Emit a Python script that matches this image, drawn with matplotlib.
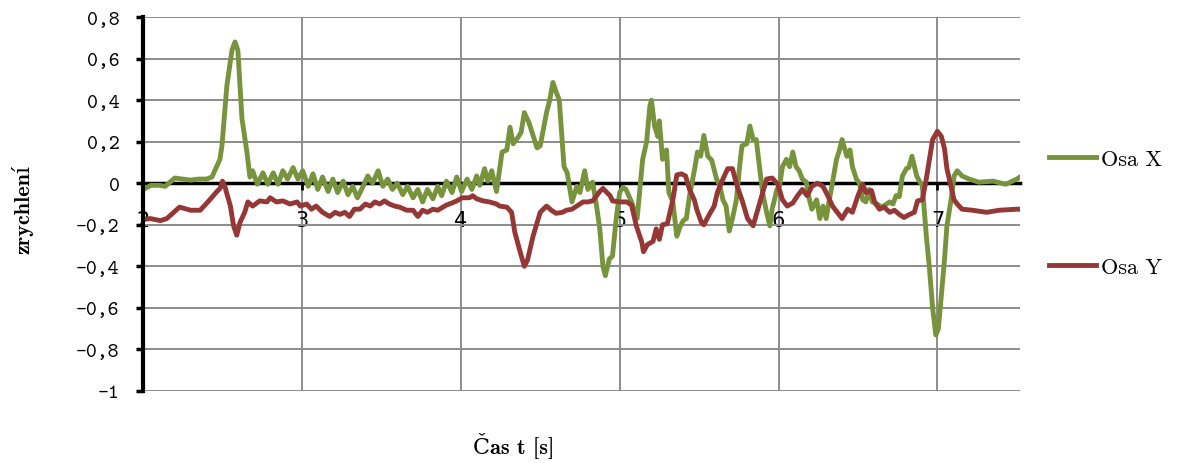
import matplotlib
matplotlib.use("Agg")
import matplotlib.pyplot as plt

# Osa X (zelená)
t_x = [2.00, 2.05, 2.10, 2.14, 2.20, 2.25, 2.30, 2.35, 2.40, 2.434, 2.484, 2.497, 2.528, 2.56, 2.579,
       2.597, 2.623, 2.654, 2.673, 2.69, 2.72, 2.755, 2.785, 2.82, 2.85, 2.88, 2.91, 2.945, 2.975,
       3.005, 3.04, 3.07, 3.10, 3.13, 3.165, 3.195, 3.225, 3.26, 3.29, 3.32, 3.35, 3.385, 3.415,
       3.445, 3.48, 3.51, 3.54, 3.57, 3.60, 3.635, 3.665, 3.70, 3.73, 3.76, 3.79, 3.825, 3.855,
       3.88, 3.91, 3.945, 3.975, 4.005, 4.04, 4.07, 4.10, 4.12, 4.15, 4.17, 4.195, 4.225, 4.26,
       4.29, 4.31, 4.33, 4.36, 4.38, 4.40, 4.43, 4.48, 4.50, 4.54, 4.56, 4.58, 4.60, 4.62, 4.65,
       4.67, 4.70, 4.73, 4.75, 4.78, 4.80, 4.83, 4.855, 4.875, 4.895, 4.91, 4.935, 4.955, 4.98,
       5.00, 5.02, 5.04, 5.075, 5.11, 5.145, 5.17, 5.19, 5.20, 5.22, 5.24, 5.25, 5.27, 5.295,
       5.31, 5.335, 5.36, 5.38, 5.40, 5.42, 5.44, 5.47, 5.49, 5.51, 5.53, 5.555, 5.58, 5.61,
       5.63, 5.65, 5.67, 5.69, 5.71, 5.735, 5.755, 5.77, 5.80, 5.82, 5.84, 5.86, 5.88, 5.90,
       5.925, 5.945, 5.96, 5.99, 6.006, 6.025, 6.05, 6.07, 6.09, 6.11, 6.13, 6.15, 6.175, 6.195,
       6.21, 6.24, 6.26, 6.28, 6.30, 6.32, 6.34, 6.365, 6.38, 6.40, 6.43, 6.45, 6.465, 6.49,
       6.51, 6.53, 6.55, 6.57, 6.59, 6.62, 6.65, 6.68, 6.70, 6.72, 6.74, 6.76, 6.78, 6.805,
       6.82, 6.84, 6.87, 6.89, 6.905, 6.93, 6.95, 6.97, 6.99, 7.006, 7.025, 7.045, 7.06, 7.09,
       7.105, 7.125, 7.155, 7.20, 7.26, 7.35, 7.43, 7.50, 7.52]
osa_x = [-0.03, -0.01, -0.01, -0.015, 0.025, 0.02, 0.015, 0.02, 0.02, 0.03, 0.115, 0.18, 0.47, 0.64, 0.68,
         0.64, 0.31, 0.15, 0.03, 0.06, -0.005, 0.05, -0.005, 0.05, -0.005, 0.06, 0.02, 0.075, 0.02,
         0.06, -0.015, 0.045, -0.03, 0.03, -0.04, 0.02, -0.045, 0.01, -0.055, -0.015, -0.07, -0.015, 0.035,
         0.0, 0.06, -0.015, 0.02, -0.03, 0.0, -0.055, -0.015, -0.07, -0.03, -0.09, -0.03, -0.075, -0.015,
         -0.06, 0.01, -0.045, 0.03, -0.04, 0.02, -0.03, 0.035, -0.01, 0.07, 0.01, 0.06, -0.04, 0.15,
         0.16, 0.27, 0.19, 0.22, 0.245, 0.34, 0.29, 0.17, 0.18, 0.34, 0.40, 0.485, 0.44, 0.40, 0.08,
         0.05, -0.09, -0.015, -0.045, 0.06, -0.03, 0.005, -0.11, -0.22, -0.40, -0.445, -0.365, -0.35, -0.16,
         -0.045, -0.02, -0.03, -0.09, -0.17, 0.115, 0.20, 0.37, 0.40, 0.275, 0.225, 0.30, 0.115, 0.16,
         -0.045, -0.09, -0.255, -0.21, -0.18, -0.17, -0.06, 0.06, 0.15, 0.13, 0.23, 0.13, 0.11, 0.02,
         -0.01, -0.08, -0.11, -0.23, -0.17, -0.08, 0.08, 0.18, 0.19, 0.275, 0.21, 0.21, 0.08, -0.045,
         -0.14, -0.205, -0.125, -0.03, -0.015, 0.08, 0.115, 0.08, 0.15, 0.08, 0.06, 0.02, 0.005, -0.08,
         -0.125, -0.08, -0.17, -0.11, -0.17, -0.08, 0.005, 0.115, 0.15, 0.21, 0.13, 0.16, 0.08, 0.02,
         0.0, -0.08, -0.09, -0.03, -0.09, -0.10, -0.115, -0.10, -0.09, -0.10, -0.06, -0.065, 0.035, 0.07,
         0.075, 0.13, 0.035, 0.005, -0.01, -0.25, -0.41, -0.60, -0.73, -0.70, -0.54, -0.365, -0.205, -0.06,
         0.035, 0.06, 0.035, 0.02, 0.005, 0.01, -0.005, 0.02, 0.03]

# Osa Y (červená)
t_y = [2.00, 2.045, 2.11, 2.15, 2.23, 2.30, 2.36, 2.42, 2.465, 2.485, 2.50, 2.515, 2.55, 2.57, 2.59,
       2.61, 2.64, 2.66, 2.69, 2.735, 2.78, 2.80, 2.84, 2.88, 2.925, 2.97, 2.99, 3.03, 3.06, 3.09,
       3.13, 3.175, 3.21, 3.24, 3.27, 3.30, 3.33, 3.365, 3.40, 3.43, 3.46, 3.49, 3.52, 3.55, 3.585,
       3.615, 3.66, 3.70, 3.73, 3.76, 3.79, 3.825, 3.855, 3.91, 3.945, 3.975, 4.01, 4.055, 4.075, 4.10,
       4.14, 4.18, 4.225, 4.245, 4.29, 4.32, 4.34, 4.37, 4.40, 4.42, 4.455, 4.50, 4.54, 4.57, 4.60,
       4.64, 4.665, 4.70, 4.73, 4.77, 4.80, 4.83, 4.855, 4.875, 4.895, 4.92, 4.94, 4.955, 5.00, 5.045,
       5.075, 5.105, 5.14, 5.15, 5.175, 5.21, 5.23, 5.25, 5.27, 5.30, 5.335, 5.36, 5.39, 5.415, 5.44,
       5.47, 5.485, 5.515, 5.53, 5.565, 5.595, 5.615, 5.65, 5.68, 5.71, 5.74, 5.77, 5.805, 5.84, 5.87,
       5.90, 5.925, 5.96, 5.995, 6.025, 6.055, 6.09, 6.12, 6.15, 6.18, 6.21, 6.245, 6.28, 6.31, 6.34,
       6.37, 6.40, 6.435, 6.465, 6.50, 6.53, 6.55, 6.585, 6.605, 6.635, 6.665, 6.70, 6.73, 6.76, 6.79,
       6.825, 6.855, 6.875, 6.905, 6.93, 6.95, 6.97, 7.00, 7.025, 7.045, 7.06, 7.09, 7.105, 7.125, 7.155,
       7.22, 7.31, 7.39, 7.50, 7.52]
osa_y = [-0.175, -0.17, -0.18, -0.17, -0.115, -0.13, -0.13, -0.08, -0.04, -0.025, 0.01, -0.015, -0.11, -0.205, -0.25,
         -0.19, -0.14, -0.09, -0.11, -0.085, -0.09, -0.07, -0.09, -0.085, -0.10, -0.09, -0.11, -0.10, -0.125, -0.11,
         -0.14, -0.16, -0.14, -0.15, -0.14, -0.16, -0.125, -0.125, -0.10, -0.11, -0.09, -0.10, -0.085, -0.10, -0.11,
         -0.115, -0.13, -0.13, -0.16, -0.13, -0.14, -0.125, -0.13, -0.105, -0.095, -0.085, -0.07, -0.07, -0.06, -0.075,
         -0.085, -0.09, -0.10, -0.11, -0.115, -0.14, -0.235, -0.32, -0.40, -0.37, -0.255, -0.14, -0.11, -0.13, -0.145,
         -0.14, -0.13, -0.125, -0.11, -0.09, -0.09, -0.085, -0.06, -0.04, -0.025, -0.045, -0.06, -0.085, -0.09, -0.09,
         -0.105, -0.205, -0.285, -0.33, -0.295, -0.28, -0.22, -0.27, -0.20, -0.195, -0.08, 0.04, 0.045, 0.035, -0.03,
         -0.08, -0.125, -0.19, -0.20, -0.15, -0.11, -0.045, 0.02, 0.07, 0.07, -0.015, -0.08, -0.17, -0.205, -0.125,
         -0.045, 0.02, 0.025, -0.005, -0.08, -0.11, -0.095, -0.06, -0.03, -0.06, -0.015, 0.0, -0.015, -0.06, -0.11,
         -0.14, -0.17, -0.125, -0.14, -0.06, -0.005, -0.045, -0.035, -0.09, -0.125, -0.115, -0.14, -0.13, -0.15, -0.165,
         -0.15, -0.14, -0.085, -0.08, 0.02, 0.115, 0.21, 0.25, 0.225, 0.165, 0.07, -0.03, -0.08, -0.10, -0.125,
         -0.13, -0.14, -0.13, -0.125, -0.125]

x_ticks = [2, 3, 4, 5, 6, 7]
x_tick_labels = ['2', '3', '4', '5', '6', '7']
y_ticks = [-1, -0.8, -0.6, -0.4, -0.2, 0, 0.2, 0.4, 0.6, 0.8]
y_tick_labels = ['-1', '-0,8', '-0,6', '-0,4', '-0,2', '0', '0,2', '0,4', '0,6', '0,8']

zelena = '#77933C'
cervena = '#953735'
serif = ['cmr10', 'DejaVu Serif']
serif_bold = ['cmb10', 'DejaVu Serif']

fig = plt.figure(figsize=(11.79, 4.64), dpi=100)
ax = fig.add_axes([143 / 1179, 1 - 392 / 464, 877 / 1179, 374 / 464])

ax.plot(t_x, osa_x, color=zelena, lw=3.5, label='Osa X', solid_joinstyle='round', zorder=3)
ax.plot(t_y, osa_y, color=cervena, lw=3.5, label='Osa Y', solid_joinstyle='round', zorder=3)

ax.set_xlim(2, 7.52)
ax.set_ylim(-1, 0.8)

# mrizka
ax.set_xticks(x_ticks, x_tick_labels)
ax.set_yticks(y_ticks, y_tick_labels)
ax.tick_params(axis='y', length=5, width=2.5, pad=12, color='black',
               labelsize=15, labelfontfamily='cmtt10')
ax.tick_params(axis='x', length=5, width=2, pad=14, color='black',
               labelsize=15, labelfontfamily='DejaVu Sans')
ax.grid(True, color='#8c8c8c', lw=1.4, zorder=0)
ax.set_axisbelow(True)

# osy
for s in ['top', 'right']:
    ax.spines[s].set_visible(False)
ax.spines['left'].set_linewidth(3)
ax.spines['bottom'].set_position(('data', 0))
ax.spines['bottom'].set_linewidth(2.5)
ax.spines['left'].set_zorder(4)
ax.spines['bottom'].set_zorder(2.5)

fig.text(22 / 1179, 1 - 210 / 464, 'zrychlení', family=serif_bold, fontsize=16,
         rotation=90, ha='center', va='center')
fig.text(514 / 1179, 1 - 445 / 464, 'Čas t [s]', family=serif_bold, fontsize=16,
         ha='center', va='center')

ax.legend(loc='center left', bbox_to_anchor=(1049 / 1179, 1 - 214 / 464),
          bbox_transform=fig.transFigure, frameon=False, prop={'family': serif, 'size': 16},
          handlelength=2.1, handletextpad=0.25, labelspacing=4.0, borderpad=0, borderaxespad=0)

fig.savefig('out.png', dpi=100)
